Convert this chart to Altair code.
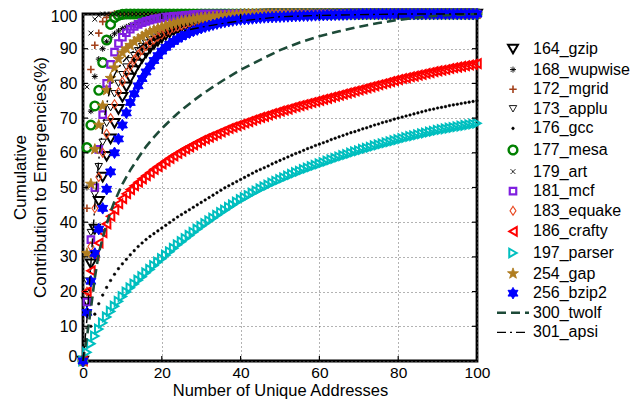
import altair as alt
import pandas as pd

# ---------------- data ----------------
X = list(range(0, 101))
SERIES = ["164_gzip", "168_wupwise", "172_mgrid", "173_applu", "176_gcc",
          "177_mesa", "179_art", "181_mcf", "183_equake", "186_crafty",
          "197_parser", "254_gap", "256_bzip2", "300_twolf", "301_apsi"]

# curves that reach 100 are listed until they get there; they stay at 100 afterwards
GZIP = [0, 17, 28, 38, 46, 53, 59, 64, 68.5, 72.5, 76, 79, 81.5, 83.7, 85.6, 87.3,
        88.8, 90.1, 91.2, 92.2, 93.1, 93.9, 94.6, 95.2, 95.7, 96.2, 96.6, 97.0, 97.3,
        97.6, 97.9, 98.1, 98.3, 98.5, 98.7, 98.9, 99.0, 99.1, 99.2, 99.3, 99.4, 99.5,
        99.6, 99.7, 99.8, 99.9]
WUPWISE = [0, 50, 72, 82, 87, 90, 92, 93.3, 94.3, 95.1, 95.8, 96.3, 96.8, 97.2, 97.5,
           97.8, 98.1, 98.3, 98.5, 98.7, 98.9, 99.1, 99.2, 99.3, 99.4, 99.5, 99.6, 99.7,
           99.8, 99.9]
MGRID = [0, 44, 84, 91, 94.5, 97.8, 99, 99.6]
APPLU = [0, 23, 37, 48, 56, 63, 68.5, 73, 77, 80, 82.5, 84.7, 86.5, 88, 89.4, 90.6,
         91.6, 92.5, 93.3, 94, 94.6, 95.2, 95.7, 96.2, 96.6, 97, 97.3, 97.6, 97.9, 98.2,
         98.4, 98.6, 98.8, 99, 99.2, 99.4, 99.5, 99.6, 99.7, 99.8, 99.9]
GCC = [0, 6, 10, 13.5, 16.5, 19, 21.2, 23.2, 25, 26.6,
       28, 29.3, 30.6, 31.8, 33, 34, 35, 35.9, 36.7, 37.5,
       38.3, 39.1, 39.9, 40.7, 41.5, 42.2, 42.9, 43.6, 44.3, 45,
       45.7, 46.4, 47.1, 47.8, 48.5, 49.2, 49.9, 50.5, 51.1, 51.7,
       52.3, 52.9, 53.5, 54.1, 54.7, 55.2, 55.7, 56.2, 56.8, 57.3,
       57.8, 58.3, 58.8, 59.3, 59.8, 60.2, 60.7, 61.2, 61.6, 62.1,
       62.5, 62.9, 63.3, 63.8, 64.2, 64.6, 65, 65.4, 65.8, 66.1,
       66.5, 66.9, 67.2, 67.6, 68, 68.3, 68.7, 69, 69.3, 69.7,
       70, 70.3, 70.6, 70.9, 71.2, 71.5, 71.8, 72.1, 72.4, 72.6,
       72.9, 73.1, 73.3, 73.6, 73.8, 74, 74.2, 74.4, 74.6, 74.8,
       75]
MESA = [0, 61.5, 68, 73.5, 78, 86, 92.5, 97, 99, 99.6, 99.9]
ART = [0, 79, 94.5, 98.5, 99.6]
MCF = [0, 17, 35, 50, 61, 71, 80, 85.5, 89, 91.5, 93.3, 94.6, 95.6, 96.4, 97, 97.5,
       97.9, 98.2, 98.5, 98.7, 98.9, 99.1, 99.2, 99.3, 99.4, 99.5, 99.6, 99.7, 99.8, 99.9]
EQUAKE = [0, 20, 33, 44, 53, 60, 65.5, 70, 74, 77.5, 80.5, 83, 85, 86.8, 88.3, 89.6,
          90.7, 91.7, 92.6, 93.4, 94.1, 94.7, 95.3, 95.8, 96.2, 96.6, 97, 97.3, 97.6,
          97.9, 98.1, 98.3, 98.5, 98.7, 98.9, 99.1, 99.3, 99.5, 99.6, 99.7, 99.8, 99.9]
CRAFTY = [0, 20, 26, 30.5, 34, 37, 39.5, 41.7, 43.6, 45.3,
          46.8, 48.2, 49.4, 50.5, 51.5, 52.5, 53.4, 54.3, 55.2, 56,
          56.8, 57.6, 58.4, 59.1, 59.8, 60.5, 61.1, 61.7, 62.3, 62.9,
          63.5, 64, 64.5, 65, 65.5, 66, 66.5, 67, 67.4, 67.8,
          68.2, 68.6, 69, 69.4, 69.8, 70.2, 70.5, 70.9, 71.3, 71.6,
          72, 72.3, 72.6, 73, 73.3, 73.6, 73.9, 74.2, 74.5, 74.8,
          75.1, 75.4, 75.7, 76, 76.3, 76.6, 76.9, 77.2, 77.5, 77.8,
          78.1, 78.4, 78.7, 79, 79.3, 79.6, 79.9, 80.2, 80.5, 80.8,
          81.1, 81.4, 81.6, 81.9, 82.1, 82.4, 82.6, 82.9, 83.1, 83.4,
          83.6, 83.8, 84, 84.3, 84.5, 84.7, 84.9, 85.1, 85.3, 85.5,
          85.7]
PARSER = [0, 2.5, 5, 7.2, 9.2, 11, 12.7, 14.3, 15.8, 17.2,
          18.6, 19.9, 21.1, 22.2, 23.3, 24.3, 25.4, 26.4, 27.5, 28.5,
          29.5, 30.5, 31.5, 32.5, 33.5, 34.4, 35.3, 36.2, 37.1, 38,
          38.8, 39.6, 40.4, 41.2, 42, 42.8, 43.5, 44.3, 45, 45.8,
          46.5, 47.1, 47.7, 48.4, 49, 49.6, 50.2, 50.7, 51.3, 51.8,
          52.3, 52.8, 53.3, 53.8, 54.3, 54.7, 55.2, 55.6, 56, 56.4,
          56.8, 57.2, 57.6, 58, 58.4, 58.8, 59.2, 59.5, 59.9, 60.3,
          60.6, 61, 61.3, 61.6, 62, 62.3, 62.6, 62.9, 63.2, 63.5,
          63.8, 64.1, 64.4, 64.7, 64.9, 65.2, 65.5, 65.7, 66, 66.2,
          66.5, 66.7, 66.9, 67.1, 67.3, 67.5, 67.7, 67.9, 68.1, 68.3,
          68.5]
GAP = [0, 31, 51, 61, 68, 73.5, 78, 81.5, 84.5, 87, 88.8, 90, 91, 92, 92.8, 93.5, 94.2,
       94.8, 95.3, 95.8, 96.2, 96.6, 97, 97.3, 97.6, 97.9, 98.1, 98.3, 98.5, 98.7, 98.9,
       99, 99.1, 99.2, 99.3, 99.4, 99.5, 99.6, 99.7, 99.8, 99.9]
BZIP2 = [0, 14, 23, 31, 38, 44, 49.5, 54.5, 60, 64, 68, 71.5, 74.5, 77, 79.3, 81.4,
         83.3, 85, 86.6, 88, 89.3, 90.4, 91.3, 92.1, 92.8, 93.5, 94.1, 94.6, 95.1, 95.5,
         95.9, 96.3, 96.6, 96.9, 97.2, 97.5, 97.7, 97.9, 98.1, 98.3, 98.4, 98.5, 98.6,
         98.7, 98.8, 98.9, 99, 99.05, 99.1, 99.15, 99.2, 99.25, 99.3, 99.35, 99.4, 99.45,
         99.5, 99.5, 99.55, 99.6, 99.6, 99.65, 99.7, 99.7, 99.75, 99.8, 99.8, 99.85,
         99.9, 99.9, 99.95]
TWOLF_X = [0, 1, 2, 3, 4, 5, 6, 7, 8, 9, 10, 12, 14, 16, 18, 20, 22, 24, 26, 28, 30,
           33, 36, 40, 45, 50, 55, 60, 65, 70, 75, 80, 85, 90, 95, 100]
TWOLF_Y = [0, 7, 15, 24, 31, 35.5, 39.5, 43, 46, 48.5, 51, 55, 58.5, 61.8, 64.5, 67,
           69.2, 71.3, 73.2, 75, 76.7, 79, 81.2, 83.9, 86.8, 89.6, 91.8, 93.6, 95, 96.3,
           97.4, 98.3, 99, 99.5, 99.8, 100]
APSI_X = [0, 1, 2, 3, 4, 5, 6, 7, 8, 9, 10, 12, 15, 20, 25, 30, 35, 40, 50, 60, 70,
          80, 90, 100]
APSI_Y = [0, 12, 28, 45, 58, 67, 74, 79, 82.5, 84.5, 86, 88.5, 91, 93.5, 95, 96.2,
          97.2, 98, 99.2, 99.6, 99.8, 100, 100, 100]

X_TICKS = [0, 20, 40, 60, 80, 100]
Y_TICKS = [0, 10, 20, 30, 40, 50, 60, 70, 80, 90, 100]
X_INNER = [20, 40, 60, 80]
Y_INNER = [10, 20, 30, 40, 50, 60, 70, 80, 90]
X_TITLE = "Number of Unique Addresses"
Y_TITLE = ["Cumulative", "Contribution to Emergencies(%)"]

# ---------------- styles ----------------
ASTER = "M-1,0L1,0M0,-1L0,1M-0.7,-0.7L0.7,0.7M-0.7,0.7L0.7,-0.7"
PLUS = "M-1,0L1,0M0,-1L0,1"
XMARK = "M-0.8,-0.8L0.8,0.8M-0.8,0.8L0.8,-0.8"
DIAM = "M0,-1.2L0.8,0L0,1.2L-0.8,0Z"
STAR = ("M0,-1L0.235,-0.324L0.951,-0.309L0.38,0.124L0.588,0.809L0,0.4L-0.588,0.809"
        "L-0.38,0.124L-0.951,-0.309L-0.235,-0.324Z")
HEXA = "M0,-1.1L0.95,0.55L-0.95,0.55Z M0,1.1L-0.95,-0.55L0.95,-0.55Z"
LINE = "M-3.2,0L3.2,0"

SHAPES = ["triangle-down", ASTER, PLUS, "triangle-down", "circle", "circle", XMARK,
          "square", DIAM, "triangle-left", "triangle-right", STAR, HEXA, LINE, LINE]
COLORS = ["#000000", "#000000", "#a3401a", "#000000", "#000000", "#008000", "#000000",
          "#7f1fe0", "#e8461e", "#ff0000", "#00bfbf", "#b07d20", "#0000ff", "#1d4a38",
          "#000000"]
FILLS = ["transparent", "transparent", "transparent", "transparent", "#000000",
         "transparent", "transparent", "transparent", "transparent", "transparent",
         "transparent", "#b07d20", "#0000ff", "transparent", "transparent"]
SIZES = [100, 36, 55, 55, 7, 75, 36, 42, 55, 75, 75, 130, 110, 100, 100]
WIDTHS = [2, 1, 1.6, 1, 0.5, 2.4, 1, 2.2, 1.1, 2, 2, 1, 1, 2.6, 1.4]
DASHES = [[1, 0]] * 13 + [[9, 5], [9, 4, 2, 4]]

POINT_DATA = [GZIP, WUPWISE, MGRID, APPLU, GCC, MESA, ART, MCF, EQUAKE, CRAFTY,
              PARSER, GAP, BZIP2]


def stay_at_100(vals):
    return vals + [100.0] * (len(X) - len(vals))


rows = []
for name, vals in zip(SERIES[:13], POINT_DATA):
    for x, y in zip(X, stay_at_100(vals)):
        rows.append({"series": name, "x": x, "y": y})
pts = pd.DataFrame(rows)

lrows = []
for name, xs_, ys_ in [("300_twolf", TWOLF_X, TWOLF_Y), ("301_apsi", APSI_X, APSI_Y)]:
    for x, y in zip(xs_, ys_):
        lrows.append({"series": name, "x": x, "y": y})
lns = pd.DataFrame(lrows)

W, H = 394, 347
FONT = "Liberation Sans"
xs = alt.Scale(domain=[0, 100], nice=False, zero=False)
ys = alt.Scale(domain=[0, 100], nice=False, zero=False)
X_AXIS = alt.Axis(values=X_TICKS, title=X_TITLE, labelPadding=4, labelFlush=False,
                  labelFontSize=15.5, titleFontSize=16.5,
                  titleY=34.5, titleBaseline="alphabetic")
Y_AXIS = alt.Axis(values=Y_TICKS, title=Y_TITLE, labelPadding=6, labelFlush=False,
                  labelFontSize=16, titleFontSize=17,
                  labelOffset={"condition": [{"test": "datum.value == 0", "value": -5},
                                             {"test": "datum.value == 100", "value": 2.5}],
                               "value": 0},
                  titleX=-58, titleY=163, titleBaseline="alphabetic", titleLineHeight=20)
leg = alt.Legend(title=None)

shape_enc = alt.Shape("series:N", scale=alt.Scale(domain=SERIES, range=SHAPES), legend=leg)
stroke_enc = alt.Stroke("series:N", scale=alt.Scale(domain=SERIES, range=COLORS), legend=leg)
fill_enc = alt.Fill("series:N", scale=alt.Scale(domain=SERIES, range=FILLS), legend=leg)
size_enc = alt.Size("series:N", scale=alt.Scale(type="ordinal", domain=SERIES, range=SIZES), legend=leg)
sw_enc = alt.StrokeWidth("series:N", scale=alt.Scale(type="ordinal", domain=SERIES, range=WIDTHS), legend=leg)
dash_enc = alt.StrokeDash("series:N", scale=alt.Scale(domain=SERIES, range=DASHES), legend=leg)

points = alt.Chart(pts).mark_point(opacity=1, clip=False).encode(
    x=alt.X("x:Q", scale=xs, axis=X_AXIS, title=X_TITLE),
    y=alt.Y("y:Q", scale=ys, axis=Y_AXIS, title=Y_TITLE),
    shape=shape_enc, stroke=stroke_enc, fill=fill_enc, size=size_enc, strokeWidth=sw_enc,
)

lines = alt.Chart(lns).mark_line(clip=False).encode(
    x=alt.X("x:Q", scale=xs, axis=X_AXIS, title=X_TITLE),
    y=alt.Y("y:Q", scale=ys, axis=Y_AXIS, title=Y_TITLE),
    stroke=stroke_enc, strokeDash=dash_enc, strokeWidth=sw_enc,
    order="x:Q",
)

xi = pd.DataFrame({"v": X_INNER})
yi = pd.DataFrame({"v": Y_INNER})
tick_style = dict(color="black", strokeWidth=1.2)
t_bottom = alt.Chart(xi).mark_rule(**tick_style).encode(
    x=alt.X("v:Q", scale=xs, axis=X_AXIS, title=X_TITLE), y=alt.value(H), y2=alt.value(H - 5))
t_top = alt.Chart(xi).mark_rule(**tick_style).encode(
    x=alt.X("v:Q", scale=xs, axis=X_AXIS, title=X_TITLE), y=alt.value(0), y2=alt.value(5))
t_left = alt.Chart(yi).mark_rule(**tick_style).encode(
    y=alt.Y("v:Q", scale=ys, axis=Y_AXIS, title=Y_TITLE), x=alt.value(0), x2=alt.value(5))
t_right = alt.Chart(yi).mark_rule(**tick_style).encode(
    y=alt.Y("v:Q", scale=ys, axis=Y_AXIS, title=Y_TITLE), x=alt.value(W), x2=alt.value(W - 5))

chart = alt.layer(points, lines, t_bottom, t_top, t_left, t_right).properties(
    width=W, height=H,
    autosize=alt.AutoSizeParams(type="none"),
    padding={"left": 75, "top": 6, "right": 154, "bottom": 38},
).configure(font=FONT).configure_view(
    stroke="black", strokeWidth=2.8
).configure_axis(
    labelFont=FONT, labelColor="black",
    titleFont=FONT, titleFontWeight="normal", titleColor="black",
    grid=True, gridColor="#666666", gridDash=[1, 3], gridWidth=1, gridOpacity=1,
    domain=False, ticks=False,
).configure_legend(
    orient="none", legendX=422, legendY=27, padding=0, offset=0,
    labelFont=FONT, labelFontSize=16, labelColor="black", labelOffset=12,
    rowPadding=3.6, labelLimit=300,
)

chart.save("out.html", embed_options={"renderer": "svg", "actions": False})
